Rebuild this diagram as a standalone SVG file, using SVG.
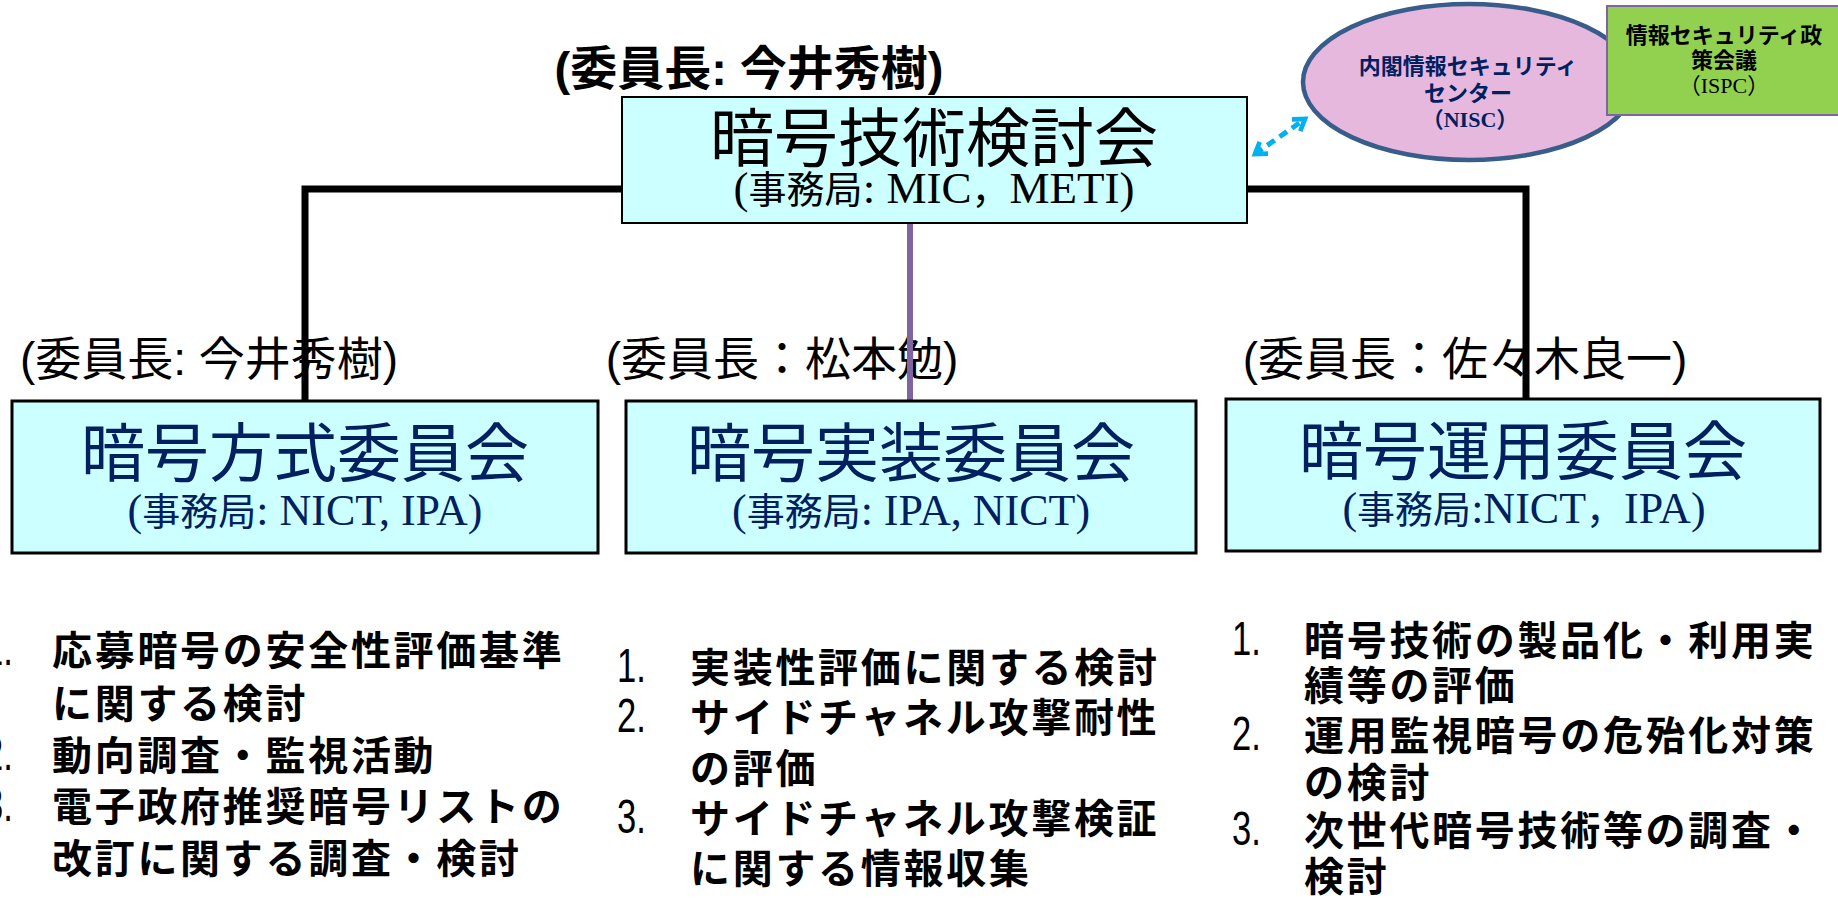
<svg xmlns="http://www.w3.org/2000/svg" width="1838" height="910" viewBox="0 0 1838 910">
<style>
.bg{fill:#ffffff}
.box{fill:#ccffff;stroke:#000000;stroke-width:3}
.ttl{font-family:"Liberation Sans","Noto Sans CJK JP",sans-serif;font-size:64px;text-anchor:middle}
.navy{fill:#002060}
.sub{font-family:"Liberation Serif","Noto Sans CJK JP",serif;text-anchor:middle}
.cj{font-family:"Noto Sans CJK JP",sans-serif}
.chair{font-family:"Liberation Sans","Noto Sans CJK JP",sans-serif;font-size:46px;text-anchor:middle;fill:#000}
.list{font-family:"Liberation Sans","Noto Sans CJK JP",sans-serif;font-size:40px;font-weight:bold;letter-spacing:2.7px;fill:#000}
.num{font-family:"Liberation Sans",sans-serif;font-size:48px;fill:#000}
.small{font-family:"Liberation Sans","Noto Sans CJK JP",sans-serif;font-size:22px;font-weight:bold;text-anchor:middle}
.smallser{font-family:"Liberation Serif","Noto Sans CJK JP",serif;font-size:22px;text-anchor:middle}
.conn{stroke:#000;stroke-width:7;fill:none}
</style>
<defs>
<marker id="ah" viewBox="0 0 10 10" refX="7.5" refY="5" markerWidth="3.6" markerHeight="3.6" orient="auto-start-reverse" markerUnits="strokeWidth">
<path d="M1.5,1 L7.5,5 L1.5,9" fill="none" stroke="#00b0f0" stroke-width="2.6"/>
</marker>
</defs>
<rect class="bg" x="0" y="0" width="1838" height="910"/>

<g id="chair-labels">
<text class="chair" x="209" y="375">(委員長: 今井秀樹)</text>
<text class="chair" x="782" y="375">(委員長：松本勉)</text>
<text class="chair" x="1465" y="375">(委員長：佐々木良一)</text>
</g>

<g id="connectors">
<polyline class="conn" points="305,401 305,189 1526,189 1526,399"/>
<line x1="910" y1="223" x2="910" y2="401" stroke="#8064a2" stroke-width="6"/>
<line x1="1255" y1="154" x2="1305" y2="119" stroke="#00b0f0" stroke-width="5" stroke-dasharray="9 6" marker-start="url(#ah)" marker-end="url(#ah)"/>
</g>

<g id="top-title">
<text x="749" y="85" font-family="Liberation Sans,Noto Sans CJK JP,sans-serif" font-size="47" font-weight="bold" text-anchor="middle">(委員長: 今井秀樹)</text>
</g>

<g id="node-top">
<rect x="622" y="97" width="625" height="126" fill="#ccffff" stroke="#000" stroke-width="2"/>
<text class="ttl" x="934" y="161" fill="#000">暗号技術検討会</text>
<text class="sub" x="934" y="203" font-size="45" fill="#000">(<tspan class="cj" font-size="38">事務局</tspan>: MIC<tspan class="cj" font-size="38">，</tspan>METI)</text>
</g>

<g id="node-nisc">
<ellipse cx="1469" cy="82" rx="166" ry="78" fill="#e6b8dd" stroke="#385d8a" stroke-width="4.5"/>
<text class="small navy" x="1468" y="74">内閣情報セキュリティ</text>
<text class="small navy" x="1468" y="101">センター</text>
<text class="smallser navy" x="1470" y="127" font-weight="bold">（NISC）</text>
</g>

<g id="node-ispc">
<rect x="1607" y="6" width="240" height="109" fill="#92d050" stroke="#8064a2" stroke-width="2"/>
<text class="small" x="1724" y="43" fill="#000">情報セキュリティ政</text>
<text class="small" x="1724" y="68" fill="#000">策会議</text>
<text class="smallser" x="1724" y="93" fill="#000">（ISPC）</text>
</g>

<g id="node-hoshiki">
<rect class="box" x="12" y="401" width="586" height="152"/>
<text class="ttl navy" x="305" y="476">暗号方式委員会</text>
<text class="sub navy" x="305" y="525" font-size="44">(<tspan class="cj" font-size="38">事務局</tspan>: NICT, IPA)</text>
</g>

<g id="node-jisso">
<rect class="box" x="626" y="401" width="570" height="152"/>
<text class="ttl navy" x="911" y="476">暗号実装委員会</text>
<text class="sub navy" x="911" y="525" font-size="44">(<tspan class="cj" font-size="38">事務局</tspan>: IPA, NICT)</text>
</g>

<g id="node-unyo">
<rect class="box" x="1226" y="399" width="594" height="152"/>
<text class="ttl navy" x="1523" y="474">暗号運用委員会</text>
<text class="sub navy" x="1524" y="523" font-size="44">(<tspan class="cj" font-size="38">事務局</tspan>:NICT<tspan class="cj" font-size="38">，</tspan>IPA)</text>
</g>

<g id="list-hoshiki">
<text class="num" transform="translate(-16,665) scale(0.72,1)">1.</text>
<text class="list" x="52" y="665">応募暗号の安全性評価基準</text>
<text class="list" x="52" y="718">に関する検討</text>
<text class="num" transform="translate(-16,770) scale(0.72,1)">2.</text>
<text class="list" x="52" y="770">動向調査・監視活動</text>
<text class="num" transform="translate(-16,821) scale(0.72,1)">3.</text>
<text class="list" x="52" y="821">電子政府推奨暗号リストの</text>
<text class="list" x="52" y="873">改訂に関する調査・検討</text>
</g>

<g id="list-jisso">
<text class="num" transform="translate(617,682) scale(0.72,1)">1.</text>
<text class="list" x="690" y="682">実装性評価に関する検討</text>
<text class="num" transform="translate(617,732) scale(0.72,1)">2.</text>
<text class="list" x="690" y="732">サイドチャネル攻撃耐性</text>
<text class="list" x="690" y="783">の評価</text>
<text class="num" transform="translate(617,833) scale(0.72,1)">3.</text>
<text class="list" x="690" y="833">サイドチャネル攻撃検証</text>
<text class="list" x="690" y="883">に関する情報収集</text>
</g>

<g id="list-unyo">
<text class="num" transform="translate(1232,655) scale(0.72,1)">1.</text>
<text class="list" x="1304" y="655">暗号技術の製品化・利用実</text>
<text class="list" x="1304" y="700">績等の評価</text>
<text class="num" transform="translate(1232,750) scale(0.72,1)">2.</text>
<text class="list" x="1304" y="750">運用監視暗号の危殆化対策</text>
<text class="list" x="1304" y="797">の検討</text>
<text class="num" transform="translate(1232,845) scale(0.72,1)">3.</text>
<text class="list" x="1304" y="845">次世代暗号技術等の調査・</text>
<text class="list" x="1304" y="891">検討</text>
</g>
</svg>
